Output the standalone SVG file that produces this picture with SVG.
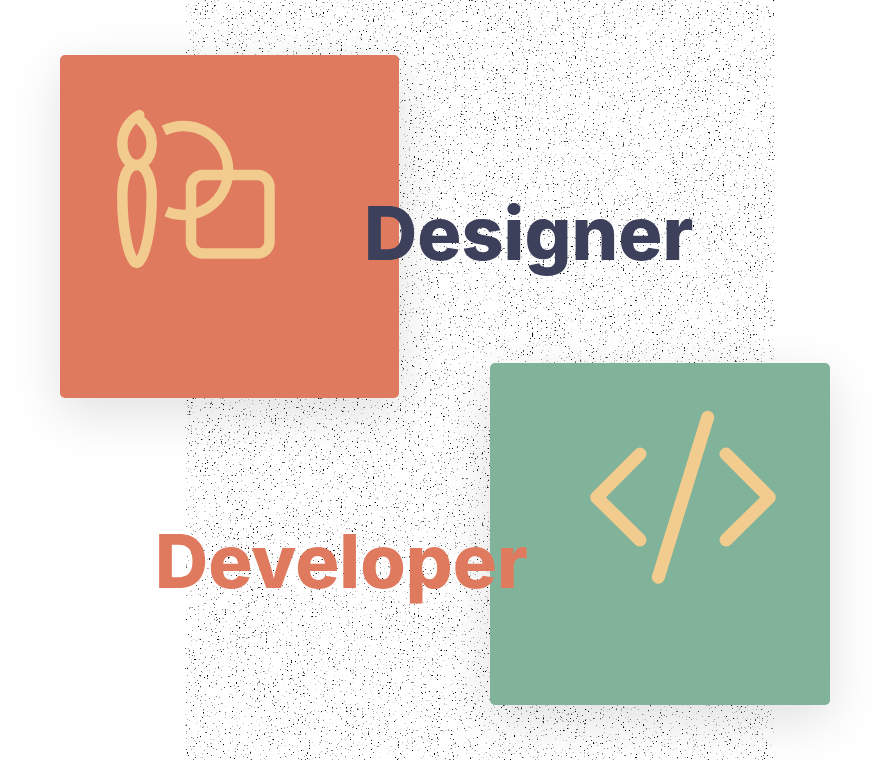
<svg xmlns="http://www.w3.org/2000/svg" width="890" height="780" viewBox="0 0 890 780">
  <defs>
    <filter id="noise" x="0" y="0" width="100%" height="100%" filterUnits="objectBoundingBox" color-interpolation-filters="sRGB">
      <feTurbulence type="fractalNoise" baseFrequency="0.56" numOctaves="2" seed="7" result="t"/>
      <feColorMatrix in="t" type="matrix" values="0 0 0 0 0  0 0 0 0 0  0 0 0 0 0  1.2 1.2 0 0 -1"/>
      <feComponentTransfer>
        <feFuncA type="linear" slope="4" intercept="-1.9"/>
      </feComponentTransfer>
    </filter>
    <filter id="shadow" x="-40%" y="-40%" width="180%" height="190%" color-interpolation-filters="sRGB">
      <feDropShadow dx="0" dy="15" stdDeviation="25" flood-color="#000" flood-opacity="0.12"/>
    </filter>
  </defs>
  <style>
    .card { filter: url(#shadow); }
    .ico { fill: none; stroke: #F2CC8F; stroke-linecap: round; stroke-linejoin: round; }
    .label { font-family: Inter, "Liberation Sans", sans-serif; font-weight: 800; font-size: 73.6px; }
  </style>
  <rect width="890" height="780" fill="#fff"/>
  <rect id="noise-bg" x="185" y="0" width="590" height="760" fill="#000" filter="url(#noise)"/>
  <g id="connectors"/>
  <g id="designer-card">
    <rect class="card" x="60" y="55" width="339" height="343" rx="5" fill="#E07A5F"/>
    <g class="ico" stroke-width="10.500">
      <path d="M139.300 115C130 120 122.300 131 122.300 143C122.300 155 128 165 136.700 165C145.500 165 151.700 155 151.700 143C151.700 133 147 126 140 120"/>
      <path d="M136.700 165C127 165 122.300 178 122.300 197C122.300 232 130 263 136.700 263C143.500 263 151.700 232 151.700 197C151.700 178 146 165 136.700 165Z"/>
      <path d="M164 130.500A44.500 44.500 0 1 1 166.500 211.500" stroke-linecap="butt"/>
      <rect x="191" y="175" width="78.500" height="78.500" rx="12"/>
    </g>
  </g>
  <g id="developer-card">
    <rect class="card" x="490" y="363" width="340" height="342" rx="5" fill="#81B29A"/>
    <g class="ico" stroke-width="13">
      <path d="M640 454L596.700 497.300L640 540"/>
      <path d="M726 454L769.300 497.300L726 540"/>
      <path d="M707.700 417.300L658.300 577.300"/>
    </g>
  </g>
  <text id="designer-label" class="label" x="364" y="260" fill="#3D405B">Designer</text>
  <text id="developer-label" class="label" x="155" y="588" fill="#E07A5F">Developer</text>
</svg>
